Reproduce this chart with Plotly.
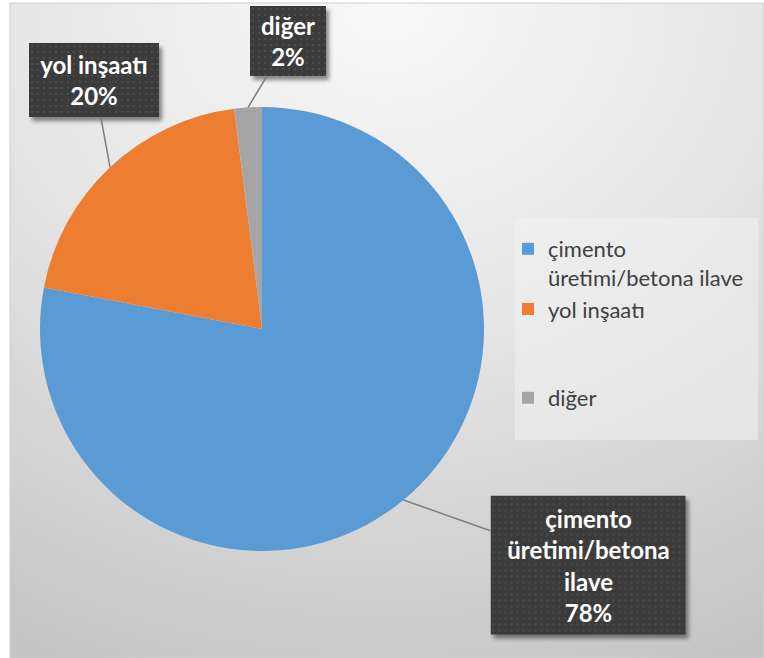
import base64
import math
import plotly.graph_objects as go

# ---- data ----
categories = ["çimento üretimi/betona ilave", "yol inşaatı", "diğer"]
legend_labels = ["çimento<br>üretimi/betona ilave", "yol inşaatı<br> <br> ", "diğer"]
box_labels = ["çimento<br>üretimi/betona<br>ilave", "yol inşaatı", "diğer"]
values = [78, 20, 2]
colors = ["#5B9BD5", "#ED7D31", "#A5A5A5"]

W, H = 764, 658

# pie geometry (pixels)
cx, cy, r = 262, 329, 222
dom_x = [(cx - r) / W, (cx + r) / W]
dom_y = [1 - (cy + r) / H, 1 - (cy - r) / H]


def svg_uri(svg):
    return "data:image/svg+xml;base64," + base64.b64encode(svg.encode()).decode()


# background gradient as an svg image
bg_svg = """<svg xmlns='http://www.w3.org/2000/svg' width='754' height='655' viewBox='0 0 754 655' preserveAspectRatio='none'>
<defs><radialGradient id='g' cx='0.5' cy='0' r='1.1'>
<stop offset='0' stop-color='#f8f8f8'/><stop offset='0.45' stop-color='#e6e6e6'/><stop offset='1' stop-color='#c4c4c4'/>
</radialGradient></defs>
<rect width='754' height='655' fill='url(#g)'/></svg>"""


def box_svg(w, h):
    return f"""<svg xmlns='http://www.w3.org/2000/svg' width='{w+8}' height='{h+8}' viewBox='0 0 {w+8} {h+8}'>
<defs>
<filter id='b' x='-10%' y='-10%' width='130%' height='130%'><feGaussianBlur stdDeviation='2'/></filter>
<pattern id='p' width='6' height='6' patternUnits='userSpaceOnUse'>
<rect width='6' height='6' fill='#3b3b3b'/><circle cx='3' cy='3' r='1' fill='#505050'/></pattern>
</defs>
<rect x='3' y='4' width='{w}' height='{h}' fill='rgba(0,0,0,0.45)' filter='url(#b)'/>
<rect x='0' y='0' width='{w}' height='{h}' fill='url(#p)'/>
</svg>"""


fig = go.Figure(go.Pie(
    labels=legend_labels,
    values=values,
    marker=dict(colors=colors, line=dict(width=0)),
    sort=False,
    direction="clockwise",
    rotation=0,
    textinfo="none",
    domain=dict(x=dom_x, y=dom_y),
    hovertemplate="%{value}%<extra></extra>",
))

# label boxes (center px, size px)
boxes = [
    (588, 565, 195, 139),
    (94, 80, 130, 74),
    (288, 41, 76, 70),
]

annotations = []
images = [dict(source=svg_uri(bg_svg), xref="paper", yref="paper", x=10 / W, y=1 - 3 / H,
               sizex=1 - 10 / W, sizey=1 - 3 / H, xanchor="left", yanchor="top",
               sizing="stretch", layer="below")]
total = sum(values)
cum = 0
for lab, v, (bx, by, bw, bh) in zip(box_labels, values, boxes):
    mid = (cum + v / 2) / total
    cum += v
    ang = 2 * math.pi * mid
    px = cx + r * math.sin(ang)
    py = cy - r * math.cos(ang)
    pct = round(100 * v / total)
    annotations.append(dict(
        x=px / W, y=1 - py / H, xref="paper", yref="paper",
        text=f"<b>{lab}<br>{pct}%</b>",
        showarrow=True, arrowhead=0, arrowwidth=1.5, arrowcolor="#7f7f7f",
        ax=bx - px, ay=by - py,
        bgcolor="rgba(0,0,0,0)", borderpad=2, borderwidth=0,
        width=bw - 4, height=bh - 4,
        font=dict(family="Lato", size=24, color="white"),
        align="center", valign="middle",
    ))
    images.append(dict(
        source=svg_uri(box_svg(bw, bh)), xref="paper", yref="paper",
        x=(bx - bw / 2) / W, y=1 - (by - bh / 2) / H,
        sizex=(bw + 8) / W, sizey=(bh + 8) / H,
        xanchor="left", yanchor="top", sizing="stretch", layer="above",
    ))

shapes = [
    # chart area border
    dict(type="rect", xref="paper", yref="paper", x0=10 / W, x1=1, y0=0, y1=1 - 3 / H,
         line=dict(color="#cfcfcf", width=1), fillcolor="rgba(0,0,0,0)", layer="below"),
    # legend background
    dict(type="rect", xref="paper", yref="paper", x0=515 / W, x1=758 / W,
         y0=1 - 440 / H, y1=1 - 218 / H,
         line=dict(width=0), fillcolor="rgba(240,240,240,0.6)", layer="below"),
]

fig.update_layout(
    width=W, height=H,
    margin=dict(l=0, r=0, t=0, b=0),
    paper_bgcolor="white",
    plot_bgcolor="rgba(0,0,0,0)",
    showlegend=True,
    legend=dict(
        x=508 / W, y=1 - 228 / H, xanchor="left", yanchor="top",
        bgcolor="rgba(0,0,0,0)", valign="top",
        font=dict(family="Lato", size=22, color="#404040"),
    ),
    images=images,
    shapes=shapes,
    annotations=annotations,
)

fig.write_html("out.html")
